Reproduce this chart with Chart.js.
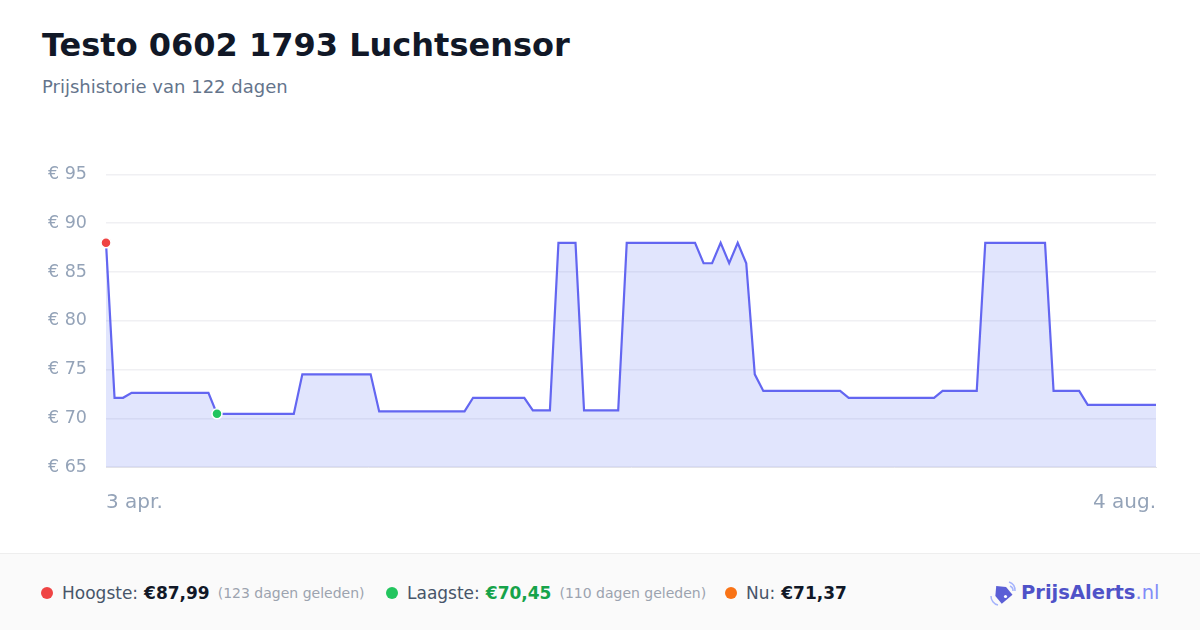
<!DOCTYPE html>
<html>
<head>
<meta charset="utf-8">
<script src="https://cdn.jsdelivr.net/npm/chart.js@4/dist/chart.umd.min.js"></script>
<style>
  html, body { margin:0; padding:0; background:#fff; width:1200px; height:630px; overflow:hidden; font-family:"DejaVu Sans", sans-serif; }
  #title { position:absolute; left:42px; top:26px; font-size:32px; font-weight:bold; color:#111827; white-space:nowrap; }
  #sub { position:absolute; left:42px; top:76px; font-size:18px; color:#64748b; white-space:nowrap; }
  #wrap { position:absolute; left:0; top:145px; width:1200px; height:385px; }
  #footer { position:absolute; left:0; top:553px; width:1200px; height:77px; background:#fafafa; border-top:1px solid #eeeeee; box-sizing:border-box; }
  .item { position:absolute; top:0; height:77px; display:flex; align-items:center; white-space:nowrap; font-size:17px; color:#475569; }
  .dot { width:12px; height:12px; border-radius:50%; display:inline-block; margin-right:9px; }
  .val { font-weight:bold; color:#111827; margin-left:6px; }
  .ago { font-size:14px; color:#9ca3af; margin-left:8px; }
  #logo { position:absolute; left:989px; top:0; height:77px; display:flex; align-items:center; white-space:nowrap; }
  #logo .b { font-weight:bold; font-size:19.5px; color:#4f52c8; margin-left:4px; }
  #logo .n { font-size:19.5px; color:#818cf8; }
</style>
</head>
<body>
<div id="title">Testo 0602 1793 Luchtsensor</div>
<div id="sub">Prijshistorie van 122 dagen</div>
<div id="wrap"><canvas id="c"></canvas></div>
<div id="footer">
  <div class="item" style="left:41px"><span class="dot" style="background:#ef4444"></span>Hoogste:<span class="val">€87,99</span><span class="ago">(123 dagen geleden)</span></div>
  <div class="item" style="left:386px"><span class="dot" style="background:#22c55e"></span>Laagste:<span class="val" style="color:#16a34a">€70,45</span><span class="ago">(110 dagen geleden)</span></div>
  <div class="item" style="left:725px"><span class="dot" style="background:#f97316"></span>Nu:<span class="val">€71,37</span></div>
  <div id="logo">
    <svg width="28" height="28" viewBox="0 0 28 28">
      <path d="M6 12 L13 5 L20 12 L20 22 L6 22 Z" fill="#5b5fd6" transform="rotate(-40 13 14)"/>
      <circle cx="16.5" cy="17.5" r="1.6" fill="#fff"/>
      <path d="M20 3 A9 9 0 0 1 26 12" stroke="#a5b4fc" stroke-width="1.5" fill="none"/>
      <path d="M21 7 A5 5 0 0 1 24 12" stroke="#a5b4fc" stroke-width="1.5" fill="none"/>
      <path d="M2 17 A9 9 0 0 0 9 26" stroke="#a5b4fc" stroke-width="1.5" fill="none"/>
    </svg>
    <span class="b">PrijsAlerts</span><span class="n">.nl</span>
  </div>
</div>
<script>
const startLabel = "3 apr.";
const endLabel = "4 aug.";
const dayIndex = Array.from({length:124}, (_, i) => i);
const prices = [
  87.99,
  72.1, 72.1,
  72.6, 72.6, 72.6, 72.6, 72.6, 72.6, 72.6, 72.6, 72.6, 72.6,
  70.45, 70.45, 70.45, 70.45, 70.45, 70.45, 70.45, 70.45, 70.45, 70.45,
  74.5, 74.5, 74.5, 74.5, 74.5, 74.5, 74.5, 74.5, 74.5,
  70.7, 70.7, 70.7, 70.7, 70.7, 70.7, 70.7, 70.7, 70.7, 70.7, 70.7,
  72.1, 72.1, 72.1, 72.1, 72.1, 72.1, 72.1,
  70.8, 70.8, 70.8,
  87.99, 87.99, 87.99,
  70.8, 70.8, 70.8, 70.8, 70.8,
  87.99, 87.99, 87.99, 87.99, 87.99, 87.99, 87.99, 87.99, 87.99,
  85.9, 85.9,
  87.99,
  85.9,
  87.99,
  85.9,
  74.5,
  72.8, 72.8, 72.8, 72.8, 72.8, 72.8, 72.8, 72.8, 72.8, 72.8,
  72.1, 72.1, 72.1, 72.1, 72.1, 72.1, 72.1, 72.1, 72.1, 72.1, 72.1,
  72.8, 72.8, 72.8, 72.8, 72.8,
  87.99, 87.99, 87.99, 87.99, 87.99, 87.99, 87.99, 87.99,
  72.8, 72.8, 72.8, 72.8,
  71.37, 71.37, 71.37, 71.37, 71.37, 71.37, 71.37, 71.37, 71.37
];
const yTicks = [65, 70, 75, 80, 85, 90, 95];
const highIdx = 0;
const lowIdx = 13;

new Chart(document.getElementById('c'), {
  type: 'line',
  data: {
    labels: dayIndex,
    datasets: [{
      data: prices,
      borderColor: '#6366f1',
      borderWidth: 2.2,
      backgroundColor: 'rgba(96,115,245,0.19)',
      fill: 'start',
      tension: 0,
      pointRadius: ctx => (ctx.dataIndex === highIdx || ctx.dataIndex === lowIdx) ? 5 : 0,
      pointBackgroundColor: ctx => ctx.dataIndex === highIdx ? '#ef4444' : '#22c55e',
      pointBorderColor: '#ffffff',
      pointBorderWidth: 1.5,
      pointHoverRadius: 0
    }]
  },
  options: {
    responsive: true,
    maintainAspectRatio: false,
    animation: false,
    layout: { padding: { top: 18, right: 44, left: 0, bottom: 0 } },
    plugins: { legend: { display: false }, tooltip: { enabled: false } },
    scales: {
      x: {
        type: 'category',
        offset: false,
        grid: { display: false, drawTicks: false },
        border: { display: true, color: '#e2e2e8', width: 1 },
        ticks: {
          autoSkip: false,
          maxRotation: 0,
          align: 'inner',
          padding: 24,
          color: '#94a3b8',
          font: { family: 'DejaVu Sans', size: 20 },
          callback: (v, i) => i === 0 ? startLabel : (i === dayIndex.length - 1 ? endLabel : '')
        },
        afterFit: s => { s.height = 63; }
      },
      y: {
        min: 65, max: 95,
        afterBuildTicks: s => { s.ticks = yTicks.map(v => ({ value: v })); },
        grid: { color: '#f0f0f3', drawTicks: false, lineWidth: 1.5 },
        border: { display: false },
        ticks: {
          padding: 19,
          color: '#94a3b8',
          font: { family: 'DejaVu Sans', size: 17.5 },
          callback: v => '€ ' + v
        },
        afterFit: s => { s.width = 106; }
      }
    }
  }
});
</script>
</body>
</html>
